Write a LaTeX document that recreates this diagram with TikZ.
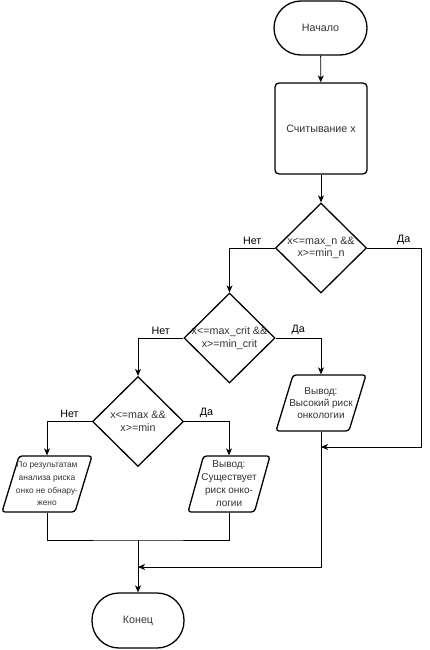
\documentclass[tikz,border=0pt]{standalone}
\usepackage{fontspec}
\setmainfont{Liberation Sans}
\usetikzlibrary{shapes.geometric,arrows.meta}

\begin{document}
\begin{tikzpicture}[x=1pt, y=-1pt,
  font=\fontsize{10.7}{12.7}\selectfont,
  shapeline/.style={draw, line width=1.3pt, text=black!80},
  term/.style={shapeline, rounded corners=27pt, minimum width=93pt, minimum height=54pt},
  proc/.style={shapeline, rounded corners=4pt, minimum width=92pt, minimum height=91pt},
  cond/.style={shapeline, diamond, inner sep=0pt, minimum width=91pt, minimum height=90pt},
  io/.style={shapeline, trapezium, trapezium left angle=73, trapezium right angle=107,
    trapezium stretches, rounded corners=3pt, inner sep=3pt, minimum width=90pt, minimum height=56pt},
  txt/.style={align=center, text=black!80},
  wire/.style={line width=0.8pt},
  arr/.style={wire, -{Stealth[length=7pt,width=6pt,inset=2pt]}}]
  \useasboundingbox (0, 0) rectangle (429, 650);

  \node at(320.5, 28) [term](start){Начало};
  \node at(321, 128.5) [proc](read){Считывание x};
  \node at(321, 248) [cond, label={[txt]center:{x<=max\_n \&\&\\x>=min\_n}}](d1){};
  \node at(229.5, 338) [cond, label={[txt]center:{x<=max\_crit \&\&\\x>=min\_crit}}](d2){};
  \node at(138, 421.5) [cond, label={[txt]center:{x<=max \&\&\\x>=min}}](d3){};
  \node at(321, 403) [io, label={[txt, font=\fontsize{10}{12.2}\selectfont]center:{Вывод:\\Высокий риск\\онкологии}}](hi){};
  \node at(47, 484) [io, label={[txt, font=\fontsize{8.4}{12.7}\selectfont]center:{По результатам\\анализа риска\\онко не обнару-\\жено}}](no){};
  \node at(229, 484) [io, minimum width=82pt, label={[txt, font=\fontsize{10}{13}\selectfont]center:{Вывод:\\Существует\\риск онко-\\логии}}](yes){};
  \node at(138, 620.5) [term, minimum width=92pt, minimum height=55pt](stop){Конец};

  \coordinate (rc) at (421, 447);
  \coordinate (j1) at (321, 447);
  \coordinate (m) at (138, 540);
  \coordinate (j2) at (138, 567);

  \draw[arr] (start) -- (read);
  \draw[arr] (read) -- (d1);
  \draw[arr] (d1.west) -| node[above, pos=.25]{Нет} (d2.north);
  \draw[arr] (d1.east) -| node[above, pos=.34]{Да} (rc) -- (j1);
  \draw[arr] (d2.west) -| node[above, pos=.25]{Нет} (d3.north);
  \draw[arr] (d2.east) -| node[above, pos=.25]{Да} (hi.north);
  \draw[arr] (d3.west) -| node[above, pos=.25]{Нет} (no.north);
  \draw[arr] (d3.east) -| node[above, pos=.25]{Да} (yes.north);

  \draw[wire] (no.south) |- (m) -| (yes.south);
  \draw[arr] (m) -- (stop);
  \draw[arr] (hi.south) |- (j2);
\end{tikzpicture}
\end{document}
